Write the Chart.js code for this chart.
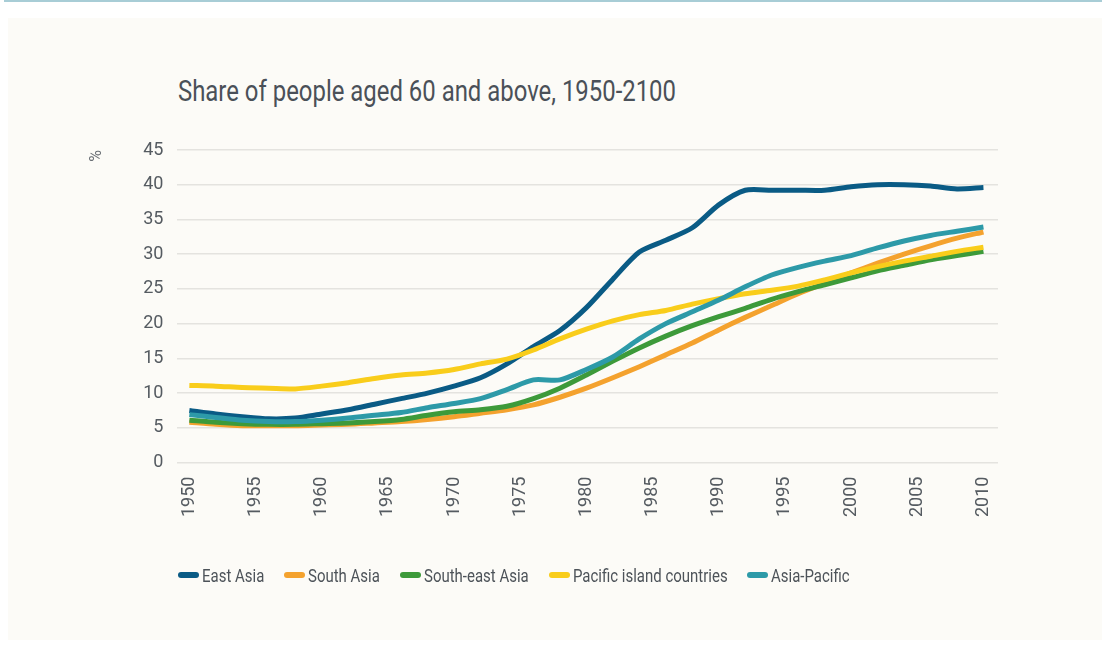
<!DOCTYPE html>
<html>
<head>
<meta charset="utf-8">
<script src="https://cdn.jsdelivr.net/npm/chart.js@4"></script>
<style>
  html, body { margin: 0; padding: 0; background: #ffffff; }
  body { width: 1102px; height: 652px; position: relative; overflow: hidden; }
  #topline { position: absolute; left: 4px; top: 0; width: 1098px; height: 2px; background: #a8cdd6; }
  #panel { position: absolute; left: 8px; top: 18px; width: 1094px; height: 622px; background: #fcfbf7; }
  #title {
    position: absolute; left: 178px; top: 77px;
    font-family: Roboto, "DejaVu Sans Condensed", sans-serif;
    font-size: 29px; line-height: 29px; color: #4a5058; white-space: nowrap;
    transform-origin: left center;
  }
  #legend {
    position: absolute; left: 178px; top: 565px; display: flex; align-items: center;
    font-family: Roboto, "DejaVu Sans Condensed", sans-serif;
    font-size: 18px; color: #4d5359; white-space: nowrap;
  }
  #legend .item { display: flex; align-items: center; height: 20px; margin-right: 20px; }
  #legend .mark { width: 21px; height: 6px; border-radius: 3px; margin-right: 3px; }
  #legend .txt { display: inline-block; transform-origin: left center; }
  #chart { position: absolute; left: 0; top: 0; }
</style>
</head>
<body>
<div id="topline"></div>
<div id="panel"></div>
<div id="title">Share of people aged 60 and above, 1950-2100</div>
<canvas id="chart" width="1102" height="652"></canvas>
<div id="legend"></div>
<script>
// Dados (intervalos de 2 anos)
const years = [1950, 1952, 1954, 1956, 1958, 1960, 1962, 1964, 1966, 1968,
               1970, 1972, 1974, 1976, 1978, 1980, 1982, 1984, 1986, 1988,
               1990, 1992, 1994, 1996, 1998, 2000, 2002, 2004, 2006, 2008, 2010];
const tickYears = [1950, 1955, 1960, 1965, 1970, 1975, 1980, 1985, 1990, 1995, 2000, 2005, 2010];

const eastAsia = [7.5, 7.0, 6.6, 6.3, 6.4, 7.0, 7.6, 8.4, 9.2, 10.0,
                  11.0, 12.2, 14.2, 16.7, 19.0, 22.3, 26.4, 30.3, 32.0, 33.8,
                  37.1, 39.2, 39.2, 39.2, 39.2, 39.7, 40.0, 40.0, 39.8, 39.4, 39.6];
const southAsia = [5.8, 5.5, 5.3, 5.3, 5.3, 5.4, 5.5, 5.7, 5.9, 6.2,
                   6.6, 7.1, 7.6, 8.3, 9.4, 10.7, 12.2, 13.8, 15.5, 17.2,
                   19.1, 20.9, 22.6, 24.3, 25.8, 27.3, 28.7, 30.0, 31.2, 32.3, 33.2];
const southEastAsia = [6.1, 5.8, 5.6, 5.5, 5.5, 5.6, 5.7, 5.9, 6.2, 6.8,
                       7.3, 7.6, 8.1, 9.2, 10.7, 12.6, 14.6, 16.5, 18.2, 19.7,
                       21.0, 22.2, 23.5, 24.6, 25.6, 26.6, 27.6, 28.4, 29.2, 29.8, 30.4];
const pacificIslands = [11.1, 11.0, 10.8, 10.7, 10.6, 11.0, 11.5, 12.1, 12.6, 12.9,
                        13.4, 14.2, 14.9, 16.2, 17.8, 19.2, 20.4, 21.3, 21.9, 22.8,
                        23.6, 24.3, 24.8, 25.4, 26.3, 27.3, 28.2, 29.0, 29.7, 30.4, 31.0];
const asiaPacific = [6.9, 6.5, 6.1, 5.9, 5.9, 6.1, 6.4, 6.8, 7.2, 7.9,
                     8.5, 9.2, 10.5, 11.9, 11.9, 13.4, 15.2, 17.8, 20.0, 21.7,
                     23.4, 25.3, 27.0, 28.1, 29.0, 29.8, 30.9, 31.9, 32.7, 33.3, 33.9];

const seriesNames = ['East Asia', 'South Asia', 'South-east Asia', 'Pacific island countries', 'Asia-Pacific'];
const seriesColors = ['#0a5b85', '#f4a22e', '#3d9a3a', '#f9cd1b', '#2d9aa8'];
const seriesValues = [eastAsia, southAsia, southEastAsia, pacificIslands, asiaPacific];

const tickFont = { family: 'Roboto, Arial, sans-serif', size: 18 };

const datasets = seriesNames.map((name, i) => ({
  label: name,
  data: years.map((y, k) => ({ x: y, y: seriesValues[i][k] })),
  borderColor: seriesColors[i],
  borderWidth: 5,
  pointRadius: 0,
  tension: 0.25,
  borderJoinStyle: 'round',
  fill: false
}));

new Chart(document.getElementById('chart'), {
  type: 'line',
  data: { datasets: datasets.slice().reverse() },
  options: {
    responsive: false,
    animation: false,
    devicePixelRatio: 1,
    layout: { padding: { left: 80, right: 104, top: 150, bottom: 121 } },
    plugins: { legend: { display: false }, title: { display: false }, tooltip: { enabled: false } },
    scales: {
      x: {
        type: 'linear',
        min: 1949.1,
        max: 2011.1,
        afterBuildTicks: s => { s.ticks = tickYears.map(v => ({ value: v })); },
        grid: { display: false, drawTicks: false },
        border: { display: false },
        ticks: {
          font: tickFont, color: '#555b61', padding: 14,
          maxRotation: 90, minRotation: 90, autoSkip: false,
          callback: v => String(v)
        }
      },
      y: {
        min: 0,
        max: 45,
        grid: { color: '#e4e3df', lineWidth: 1.5, drawTicks: false },
        border: { display: false },
        ticks: { stepSize: 5, font: tickFont, color: '#555b61', padding: 14 },
        title: {
          display: true, text: '%', align: 'end', color: '#6a6f75',
          font: { family: 'Roboto, Arial, sans-serif', size: 16 },
          padding: { top: 7, bottom: 23 }
        }
      }
    }
  }
});

// Título: largura ajustada à fonte condensada do original
const titleEl = document.getElementById('title');
titleEl.style.transform = 'scaleX(' + (498 / titleEl.getBoundingClientRect().width) + ')';

// Legenda em HTML
const legendEl = document.getElementById('legend');
const txtEls = [];
seriesNames.forEach((name, i) => {
  const item = document.createElement('div');
  item.className = 'item';
  const mark = document.createElement('span');
  mark.className = 'mark';
  mark.style.background = seriesColors[i];
  const txt = document.createElement('span');
  txt.className = 'txt';
  txt.textContent = name;
  item.appendChild(mark);
  item.appendChild(txt);
  legendEl.appendChild(item);
  txtEls.push(txt);
});
const natural = txtEls.map(t => t.getBoundingClientRect().width);
const textTotal = natural.reduce((a, b) => a + b, 0);
const sx = (672 - 5 * 24 - 4 * 20) / textTotal;
txtEls.forEach((t, i) => {
  t.style.width = (natural[i] * sx) + 'px';
  t.style.transform = 'scaleX(' + sx + ')';
});
</script>
</body>
</html>
